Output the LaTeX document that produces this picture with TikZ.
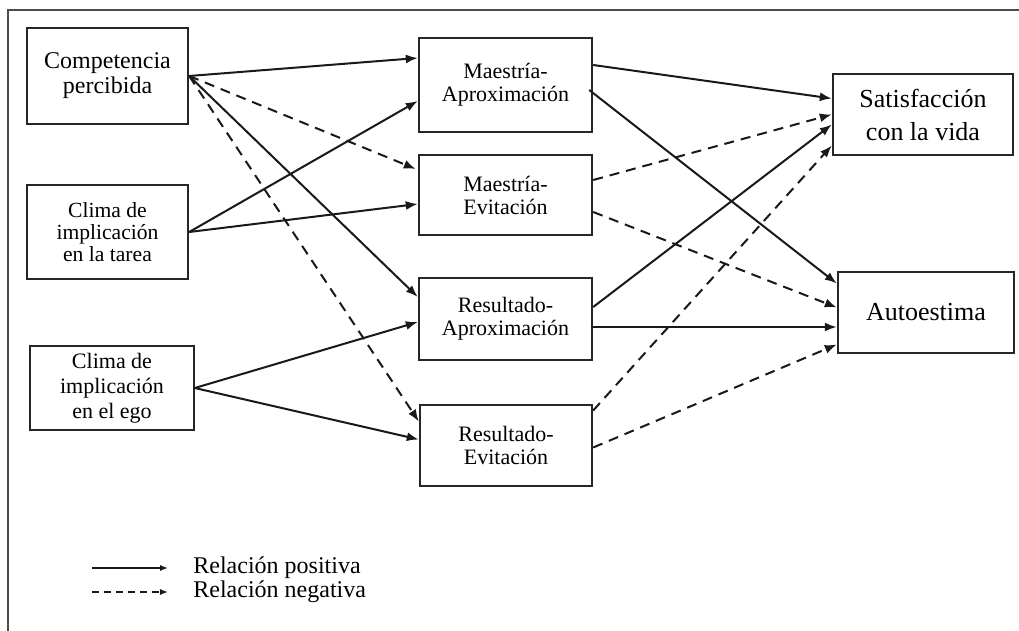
\documentclass[tikz,border=0pt]{standalone}
\usepackage{fontspec}
\setmainfont{Liberation Serif}
\usetikzlibrary{arrows.meta,calc,positioning}

\begin{document}
\begin{tikzpicture}[x=0.5pt,y=-0.5pt,
	box/.style={draw=black!85,line width=1.2pt,inner sep=0pt,align=center},
	posarrow/.style={draw=black!90,line width=1pt,-{Latex[length=6pt,width=4.5pt]}},
	negarrow/.style={posarrow,dash pattern=on 5pt off 3.5pt}]
	\useasboundingbox (0,0) rectangle (1019,631);
	\draw[black!70,line width=0.8pt] (8,631) -- (8,10) -- (1019,10);
	% Praediktoren
	\path
	(107.5,76) node[box,minimum width=80.5pt,minimum height=48pt,font=\fontsize{12}{12.5}\selectfont](comp) {Competencia\\percibida}
	(107.5,232) node[box,minimum width=80.5pt,minimum height=47pt,font=\fontsize{10.8}{11}\selectfont](tarea) {Clima de\\implicación\\en la tarea}
	(112,388) node[box,line width=0.8pt,minimum width=82pt,minimum height=42pt,font=\fontsize{11}{12.5}\selectfont](ego) {Clima de\\implicación\\en el ego};
	% Metas
	\path
	(505.5,85) node[box,minimum width=86.5pt,minimum height=47pt,font=\fontsize{11}{11.5}\selectfont](ma) {Maestría-\\Aproximación}
	(505.5,195) node[box,minimum width=86.5pt,minimum height=40pt,font=\fontsize{11}{11.5}\selectfont](me) {Maestría-\\Evitación}
	(505.5,319) node[box,minimum width=86.5pt,minimum height=41pt,font=\fontsize{11}{11.5}\selectfont](ra) {Resultado-\\Aproximación}
	(506,445.5) node[box,minimum width=86pt,minimum height=40.5pt,font=\fontsize{11}{11.5}\selectfont](re) {Resultado-\\Evitación};
	% Konsequenzen
	\path
	(923,114.5) node[box,minimum width=90pt,minimum height=40.5pt,font=\fontsize{13}{16.5}\selectfont](sat) {Satisfacción\\con la vida}
	(926,312.5) node[box,minimum width=88pt,minimum height=40.5pt,font=\fontsize{13}{16.5}\selectfont](auto) {Autoestima};
	% Pfade
	\draw[posarrow] (comp.east) to ($(ma.west)+(0,-27)$);
	\draw[negarrow] (comp.east) to ($(me.west)+(-2,-26)$);
	\draw[posarrow] (comp.east) to ($(ra.west)+(0,-22)$);
	\draw[negarrow] (comp.east) to ($(re.west)+(0,-24)$);
	\draw[posarrow] (tarea.east) to ($(ma.west)+(0,16)$);
	\draw[posarrow] (tarea.east) to ($(me.west)+(0,9)$);
	\draw[posarrow] (ego.east) to ($(ra.west)+(0,3)$);
	\draw[posarrow] (ego.east) to ($(re.west)+(0,-6)$);
	\draw[posarrow] ($(ma.east)+(0,-20)$) to ($(sat.west)+(0,-16)$);
	\draw[posarrow] ($(ma.east)+(-4,5)$) to ($(auto.west)+(0,-29)$);
	\draw[negarrow] ($(me.east)+(0,-15)$) to (sat.west);
	\draw[negarrow] ($(me.east)+(0,17)$) to ($(auto.west)+(0,-5)$);
	\draw[posarrow] ($(ra.east)+(0,-12)$) to ($(sat.west)+(0,10)$);
	\draw[posarrow] ($(ra.east)+(-2,8)$) to ($(auto.west)+(0,14.5)$);
	\draw[negarrow] ($(re.east)+(0,-35)$) to ($(sat.west)+(0,31)$);
	\draw[negarrow] ($(re.east)+(0,2)$) to ($(auto.west)+(0,32)$);
	% Legende
	\coordinate (posA) at (92,568);
	\coordinate (posB) at (168,568);
	\coordinate (negA) at (92,592);
	\coordinate (negB) at (168,592);
	\path
	(193,568) node[anchor=west,inner sep=0pt,font=\fontsize{12}{12}\selectfont](lpos) {Relación positiva}
	(193,592) node[anchor=west,inner sep=0pt,font=\fontsize{12}{12}\selectfont](lneg) {Relación negativa};
	\draw[black!90,line width=0.7pt,-{Latex[length=4pt,width=3pt]}] (posA) to (posB);
	\draw[black!90,line width=0.7pt,dash pattern=on 3.5pt off 2.5pt,-{Latex[length=4pt,width=3pt]}] (negA) to (negB);
\end{tikzpicture}
\end{document}
